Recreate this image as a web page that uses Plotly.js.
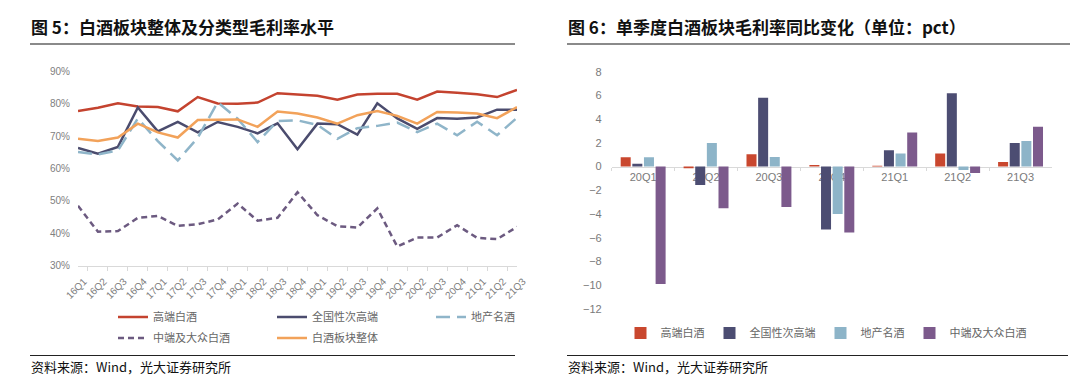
<!DOCTYPE html>
<html>
<head>
<meta charset="utf-8">
<script src="https://cdn.plot.ly/plotly-3.0.1.min.js"></script>
<style>html,body{margin:0;padding:0;background:#fff;}#chart{width:1080px;height:381px;}</style>
</head>
<body>
<div id="chart"></div>
<script>
// ---------- data: left chart ----------
const quarters = ['16Q1','16Q2','16Q3','16Q4','17Q1','17Q2','17Q3','17Q4','18Q1','18Q2','18Q3','18Q4',
                  '19Q1','19Q2','19Q3','19Q4','20Q1','20Q2','20Q3','20Q4','21Q1','21Q2','21Q3'];
const highEnd   = [77.8,78.8,80.2,79.2,79.0,77.7,82.1,80.1,80.0,80.4,83.3,82.8,82.5,81.3,82.9,83.1,83.1,81.3,83.8,83.4,83.0,82.1,84.3];
const national  = [66.4,64.6,66.7,78.9,71.5,74.4,71.2,74.4,72.9,70.9,74.0,66.0,73.9,73.7,70.5,80.2,75.5,72.3,75.6,75.4,75.8,78.2,78.2];
const localBrand= [65.1,64.4,65.6,75.5,68.5,62.5,69.5,80.5,75.4,68.2,74.7,74.9,73.5,69.2,72.5,73.2,74.2,71.3,73.9,70.3,74.5,70.3,75.7];
const midMass   = [48.5,40.5,40.7,44.8,45.4,42.3,42.8,44.3,49.2,43.9,44.8,52.7,45.6,42.2,41.8,47.7,35.9,38.7,38.7,42.5,38.6,38.2,42.0];
const sector    = [69.2,68.5,69.6,73.9,71.2,69.6,75.0,75.1,75.2,72.9,77.6,77.0,75.8,73.9,76.5,77.8,76.3,73.9,77.5,77.3,77.0,75.6,79.0];
const leftNames = ['高端白酒','全国性次高端','地产名酒','中端及大众白酒','白酒板块整体'];

// ---------- data: right chart ----------
const barCats  = ['20Q1','20Q2','20Q3','20Q4','21Q1','21Q2','21Q3'];
const bHigh    = [0.79,-0.14,1.04,0.14,0.08,1.10,0.39];
const bNational= [0.25,-1.55,5.80,-5.30,1.38,6.18,2.00];
const bLocal   = [0.79,2.00,0.81,-4.00,1.10,-0.28,2.16];
const bMid     = [-9.90,-3.50,-3.40,-5.56,2.87,-0.53,3.37];
const rightNames = ['高端白酒','全国性次高端','地产名酒','中端及大众白酒'];

// ---------- helpers ----------
const W = 1080, H = 381;
const px = x => x / W;
const py = y => 1 - y / H;
const FONT = 'Liberation Sans, Arial, Noto Sans CJK SC, sans-serif';
const CJK = 'Noto Sans CJK SC, sans-serif';

const cRed = '#C4432F', cNavy = '#4B4C6E', cBlue = '#8FB5C9', cPurpleLine = '#6C5A80', cOrange = '#F2A25A';
const cBarRed = '#C9472E', cBarNavy = '#4C4D72', cBarBlue = '#8DB4C8', cBarPurple = '#7C5A8C';

const traces = [
  {x: quarters, y: highEnd, name: leftNames[0], type:'scatter', mode:'lines', line:{color:cRed, width:2.5}, xaxis:'x', yaxis:'y', legend:'legend'},
  {x: quarters, y: national, name: leftNames[1], type:'scatter', mode:'lines', line:{color:cNavy, width:2.5}, xaxis:'x', yaxis:'y', legend:'legend'},
  {x: quarters, y: localBrand, name: leftNames[2], type:'scatter', mode:'lines', line:{color:cBlue, width:2.5, dash:'14px,7px'}, xaxis:'x', yaxis:'y', legend:'legend'},
  {x: quarters, y: midMass, name: leftNames[3], type:'scatter', mode:'lines', line:{color:cPurpleLine, width:2.5, dash:'6px,4px'}, xaxis:'x', yaxis:'y', legend:'legend2'},
  {x: quarters, y: sector, name: leftNames[4], type:'scatter', mode:'lines', line:{color:cOrange, width:2.5}, xaxis:'x', yaxis:'y', legend:'legend2'},
  {x: barCats, y: bHigh, name: rightNames[0], type:'bar', marker:{color:cBarRed}, xaxis:'x2', yaxis:'y2', legend:'legend3'},
  {x: barCats, y: bNational, name: rightNames[1], type:'bar', marker:{color:cBarNavy}, xaxis:'x2', yaxis:'y2', legend:'legend3'},
  {x: barCats, y: bLocal, name: rightNames[2], type:'bar', marker:{color:cBarBlue}, xaxis:'x2', yaxis:'y2', legend:'legend3'},
  {x: barCats, y: bMid, name: rightNames[3], type:'bar', marker:{color:cBarPurple}, xaxis:'x2', yaxis:'y2', legend:'legend3'}
];

const yDomL = [py(265.7), py(71.5)];
const yDomR = [py(309), py(71.7)];
const zeroPos = yDomR[0] + (12/20) * (yDomR[1] - yDomR[0]);

const tickFont = {family: FONT, size: 10, color: '#808080'};

const layout = {
  width: W, height: H,
  margin: {l:0, r:0, t:0, b:0},
  paper_bgcolor: '#fff', plot_bgcolor: 'rgba(0,0,0,0)',
  font: {family: CJK, color:'#555'},
  showlegend: true,
  barmode: 'group', bargap: 0.26, bargroupgap: 0.14,
  xaxis: {
    domain: [px(78), px(517)], anchor:'y', type:'category',
    showgrid:false, zeroline:false, showline:true, linecolor:'#d9d9d9', linewidth:1,
    ticks:'outside', tickson:'boundaries', ticklen:4, tickcolor:'#d9d9d9',
    tickangle:-45, tickfont: tickFont, ticklabelstandoff: 5, ticklabelshift: 6
  },
  yaxis: {
    domain: yDomL, anchor:'x', range:[30,90], dtick:10, ticksuffix:'%',
    showgrid:false, zeroline:false, showline:false, ticks:'',
    tickfont: tickFont, ticklabelstandoff: 7
  },
  xaxis2: {
    domain: [px(611.7), px(1052)], anchor:'free', position: zeroPos, type:'category',
    showgrid:false, zeroline:false, showline:true, linecolor:'#d9d9d9', linewidth:1,
    ticks:'outside', tickson:'boundaries', ticklen:3, tickcolor:'#d9d9d9',
    tickfont: {family: FONT, size: 11, color:'#7a7a7a'}, layer:'below traces'
  },
  yaxis2: {
    domain: yDomR, anchor:'x2', range:[-12,8], dtick:2,
    showgrid:false, zeroline:false, showline:false, ticks:'',
    tickfont: {family: FONT, size: 11, color:'#7a7a7a'}, ticklabelstandoff: 9
  },
  legend: {
    orientation:'h', x: px(113), xanchor:'left', y: py(317), yanchor:'middle',
    font:{family:CJK, size:11, color:'#666'}, entrywidth:114, entrywidthmode:'pixels',
    bgcolor:'rgba(0,0,0,0)', itemclick:false, tracegroupgap:0
  },
  legend2: {
    orientation:'h', x: px(113), xanchor:'left', y: py(338), yanchor:'middle',
    font:{family:CJK, size:11, color:'#666'}, entrywidth:114, entrywidthmode:'pixels',
    bgcolor:'rgba(0,0,0,0)', itemclick:false
  },
  legend3: {
    orientation:'h', x: px(826), xanchor:'center', y: py(333), yanchor:'middle',
    font:{family:CJK, size:11, color:'#666'}, itemwidth:30,
    bgcolor:'rgba(0,0,0,0)', itemclick:false
  },
  shapes: [
    {type:'line', xref:'paper', yref:'paper', x0:px(30), x1:px(515), y0:py(44), y1:py(44), line:{color:'#8a8a8a', width:2}},
    {type:'line', xref:'paper', yref:'paper', x0:px(567), x1:px(1070), y0:py(44), y1:py(44), line:{color:'#8a8a8a', width:2}},
    {type:'line', xref:'paper', yref:'paper', x0:px(30), x1:px(515), y0:py(355.5), y1:py(355.5), line:{color:'#222', width:1.2}},
    {type:'line', xref:'paper', yref:'paper', x0:px(567), x1:px(1068), y0:py(355.5), y1:py(355.5), line:{color:'#222', width:1.2}}
  ],
  annotations: [
    {text:'<b>图 5：白酒板块整体及分类型毛利率水平</b>', xref:'paper', yref:'paper', x:px(29), y:py(27), xanchor:'left', yanchor:'middle', showarrow:false, font:{family:CJK, size:17, color:'#111'}},
    {text:'<b>图 6：单季度白酒板块毛利率同比变化（单位：pct）</b>', xref:'paper', yref:'paper', x:px(566), y:py(27), xanchor:'left', yanchor:'middle', showarrow:false, font:{family:CJK, size:17, color:'#111'}},
    {text:'资料来源：Wind，光大证券研究所', xref:'paper', yref:'paper', x:px(29), y:py(366), xanchor:'left', yanchor:'middle', showarrow:false, font:{family:CJK, size:13, color:'#111'}},
    {text:'资料来源：Wind，光大证券研究所', xref:'paper', yref:'paper', x:px(566), y:py(366), xanchor:'left', yanchor:'middle', showarrow:false, font:{family:CJK, size:13, color:'#111'}}
  ]
};

Plotly.newPlot('chart', traces, layout, {displayModeBar:false, staticPlot:true});
</script>
</body>
</html>
